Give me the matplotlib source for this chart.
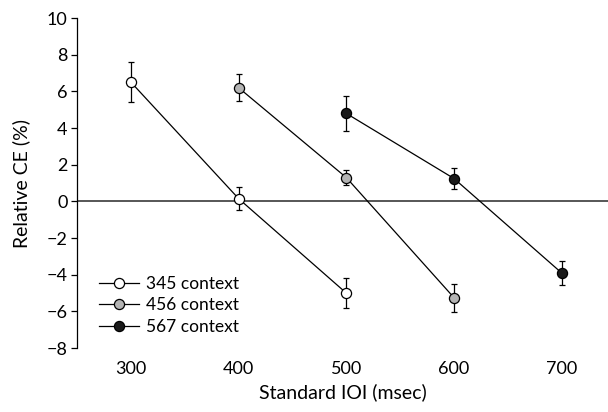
import matplotlib.pyplot as plt

# Standard IOI (msec) per context and relative CE (%) with error bars
x_345 = [300, 400, 500]
y_345 = [6.5, 0.15, -5.0]
e_345 = [1.1, 0.63, 0.8]

x_456 = [400, 500, 600]
y_456 = [6.2, 1.3, -5.25]
e_456 = [0.73, 0.4, 0.77]

x_567 = [500, 600, 700]
y_567 = [4.8, 1.25, -3.9]
e_567 = [0.95, 0.57, 0.66]

labels = ["345 context", "456 context", "567 context"]
face_colors = ["white", "#b4b4b4", "#1a1a1a"]
x_ticks = [300, 400, 500, 600, 700]
y_ticks = [-8, -6, -4, -2, 0, 2, 4, 6, 8, 10]

plt.rcParams["font.family"] = ["Lato", "DejaVu Sans"]

fig = plt.figure(figsize=(6.08, 4.12), dpi=100)
ax = fig.add_axes([0.127, 0.155, 0.873, 0.801])

ax.axhline(0, color="#3a3a3a", linewidth=1.2, zorder=1)

series = [(x_345, y_345, e_345), (x_456, y_456, e_456), (x_567, y_567, e_567)]
for (xs, ys, es), label, fc in zip(series, labels, face_colors):
    ax.errorbar(xs, ys, yerr=es, color="black", linewidth=0.9,
                elinewidth=0.9, capsize=2.5, capthick=0.9,
                marker="o", markersize=7.3, markerfacecolor=fc,
                markeredgecolor="black", markeredgewidth=0.9,
                label=label, zorder=3)

ax.set_xlim(250, 743)
ax.set_ylim(-8, 10)
ax.set_xticks(x_ticks)
ax.set_yticks(y_ticks)
ax.tick_params(axis="x", length=0, labelsize=13, pad=9)
ax.tick_params(axis="y", length=4, width=0.9, labelsize=13, pad=3)

for side in ["top", "right", "bottom"]:
    ax.spines[side].set_visible(False)
ax.spines["left"].set_linewidth(0.9)

ax.set_xlabel("Standard IOI (msec)", fontsize=14, labelpad=5)
ax.set_ylabel("Relative CE (%)", fontsize=14, labelpad=12)

handles, leg_labels = ax.get_legend_handles_labels()
handles = [h[0] for h in handles]
ax.legend(handles, leg_labels, loc="upper left", bbox_to_anchor=(0.028, 0.24),
          frameon=False, fontsize=12.5, handlelength=2.3, handletextpad=0.4,
          labelspacing=0.32, borderaxespad=0)

fig.savefig("out.png", dpi=100)
